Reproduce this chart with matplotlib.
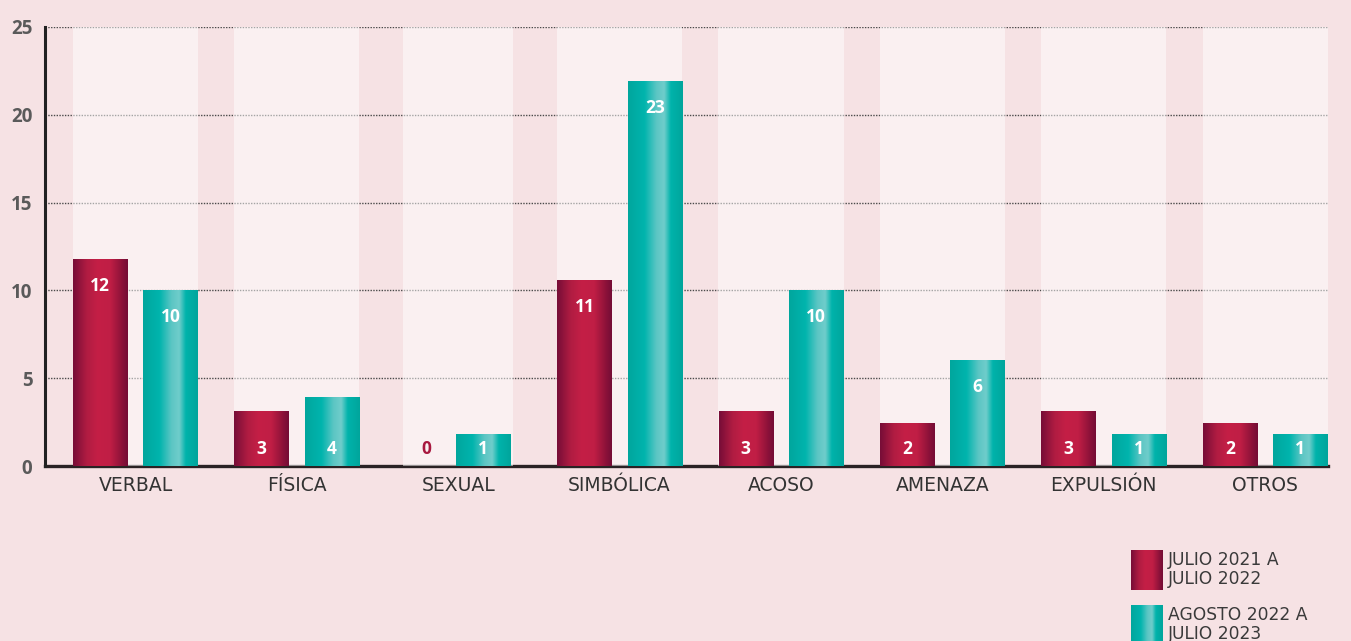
import numpy as np
import matplotlib
matplotlib.use("Agg")
import matplotlib.pyplot as plt
from matplotlib.colors import LinearSegmentedColormap

# ---- data ----
categories = ["VERBAL", "FÍSICA", "SEXUAL", "SIMBÓLICA", "ACOSO", "AMENAZA", "EXPULSIÓN", "OTROS"]
series_names = ["JULIO 2021 A\nJULIO 2022", "AGOSTO 2022 A\nJULIO 2023"]
# bar heights as drawn in the picture
heights_2122 = [11.75, 3.1, 0.0, 10.55, 3.1, 2.4, 3.13, 2.4]
heights_2223 = [10.0, 3.88, 1.82, 21.9, 10.0, 6.0, 1.82, 1.82]
# value labels as printed
labels_2122 = ["12", "3", "0", "11", "3", "2", "3", "2"]
labels_2223 = ["10", "4", "1", "23", "10", "6", "1", "1"]
yticks = [0, 5, 10, 15, 20, 25]

BG = "#f6e2e4"
plt.rcParams['font.family'] = ['Open Sans', 'DejaVu Sans']
WIDE = ['DejaVu Sans']

red_cmap = LinearSegmentedColormap.from_list(
    "r", [(0, "#760d37"), (0.25, "#b01c42"), (0.45, "#c41f46"), (0.68, "#c01e45"), (0.9, "#8a1139"), (1, "#740c36")])
teal_cmap = LinearSegmentedColormap.from_list(
    "t", [(0, "#00a69d"), (0.3, "#00b4ad"), (0.52, "#5cc6c4"), (0.66, "#70cdcb"), (0.78, "#00b3ab"), (1, "#00a59c")])

fig = plt.figure(figsize=(13.51, 6.41), dpi=100, facecolor=BG)
W, H = 1351, 641
ax = fig.add_axes([45 / W, 1 - 466 / H, (1328 - 45) / W, (466 - 27) / H])
ax.set_facecolor(BG)

x = np.arange(len(categories))
xlim = (-0.561, 7.39)
ylim = (0, 25)
bw = 0.338

# gridlines
for t in yticks[1:]:
    ax.axhline(t, color="#4a4a4a", lw=1.0, ls=(0, (1, 1)), zorder=1)
# bottom axis line
ax.axhline(0, color="#2a2224", lw=2.4, zorder=1.5, clip_on=False)

grad = np.linspace(0, 1, 256)[None, :]
for i in range(len(categories)):
    compact = heights_2122[i] == 0 or heights_2223[i] == 0
    offs = (-0.2, 0.152) if compact else (-0.218, 0.218)
    band_w = 0.68 if compact else 0.775
    # light band (semi-transparent white)
    ax.bar(x[i], 25.15, bottom=-0.15, width=band_w, color="white", alpha=0.5, zorder=2, lw=0)
    for h, cmap, dx, lab in ((heights_2122[i], red_cmap, offs[0], labels_2122[i]),
                             (heights_2223[i], teal_cmap, offs[1], labels_2223[i])):
        cx = x[i] + dx
        if h > 0:
            ax.imshow(grad, cmap=cmap, extent=[cx - bw / 2, cx + bw / 2, 0, h],
                      aspect="auto", zorder=3, interpolation="bicubic")
        ly = h - 1.5 if h > 5 else 0.97
        col = "white" if h > 0 else "#a8183f"
        ax.text(cx, ly, lab, ha="center", va="center", color=col,
                fontsize=12.5, fontweight="bold", zorder=4)

ax.set_xlim(*xlim)
ax.set_ylim(*ylim)
ax.set_xticks(x)
ax.set_xticklabels(categories, fontsize=13.5, color="#333333", family=WIDE)
ax.set_yticks(yticks)
ax.set_yticklabels([str(t) for t in yticks], fontsize=13.5, fontweight="bold", color="#5a5a5a")
ax.tick_params(axis="both", length=0)
ax.tick_params(axis="x", pad=7)
ax.tick_params(axis="y", pad=9)
for s in ("top", "right", "bottom"):
    ax.spines[s].set_visible(False)
ax.spines["left"].set_color("#222222")
ax.spines["left"].set_linewidth(2.2)
ax.spines["left"].set_zorder(5)

# legend (manual)
for (y0, y1), cmap, name in (((550, 590), red_cmap, series_names[0]),
                             ((605, 645), teal_cmap, series_names[1])):
    lax = fig.add_axes([1131 / W, 1 - y1 / H, 32 / W, (y1 - y0) / H])
    lax.imshow(grad, cmap=cmap, aspect="auto", extent=[0, 1, 0, 1], interpolation="bicubic")
    lax.set_axis_off()
    fig.text(1168 / W, 1 - (y0 + 1) / H, name, ha="left", va="top", fontsize=12.3,
             color="#3a3a3a", linespacing=1.05, family=WIDE)

fig.savefig("out.png", dpi=100, facecolor=BG)
